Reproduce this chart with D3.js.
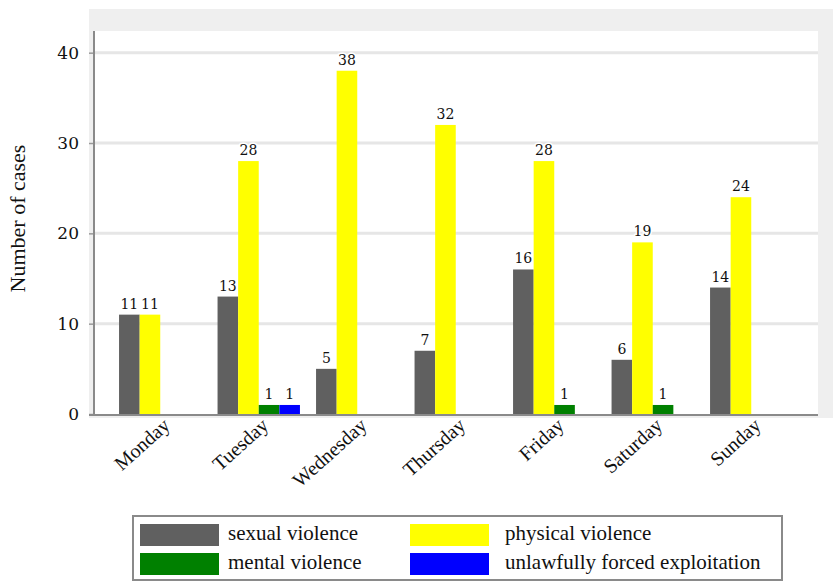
<!DOCTYPE html>
<html>
<head>
<meta charset="utf-8">
<script src="https://cdn.jsdelivr.net/npm/d3@7/dist/d3.min.js"></script>
<style>
  html, body { margin: 0; padding: 0; background: #fff; }
  svg { display: block; }
  .serif { font-family: "Liberation Serif", "Times New Roman", Times, serif; }
</style>
</head>
<body>
<svg id="chart" width="833" height="582"></svg>
<script>
// Weekday categories and the four case types
const days = ["Monday", "Tuesday", "Wednesday", "Thursday", "Friday", "Saturday", "Sunday"];
const seriesNames = ["sexual violence", "physical violence", "mental violence", "unlawfully forced exploitation"];
const seriesColors = ["#606060", "#ffff00", "#008000", "#0000ff"];

// Number of cases per day for each type
const sexualViolence   = [11, 13, 5, 7, 16, 6, 14];
const physicalViolence = [11, 28, 38, 32, 28, 19, 24];
const mentalViolence   = [0, 1, 0, 0, 1, 1, 0];
const forcedExploitation = [0, 1, 0, 0, 0, 0, 0];

const yTicks = [0, 10, 20, 30, 40];
const yMax = 42.4;

const seriesValues = [sexualViolence, physicalViolence, mentalViolence, forcedExploitation];

const svg = d3.select("#chart");

// Frame geometry
const outer = { left: 89, top: 9, right: 833, bottom: 418 };
const plot = { left: 95, top: 31, right: 818, bottom: 414 };

const x0 = d3.scaleBand()
  .domain(days)
  .range([111, 800.5])
  .paddingInner(0.1635)
  .paddingOuter(0.0817);

const x1 = d3.scaleBand()
  .domain(d3.range(seriesNames.length))
  .range([0, x0.bandwidth()])
  .padding(0);

const y = d3.scaleLinear().domain([0, yMax]).range([plot.bottom, plot.top]);

// Grey frame and white plotting panel
svg.append("rect")
  .attr("x", outer.left).attr("y", outer.top)
  .attr("width", outer.right - outer.left).attr("height", outer.bottom - outer.top)
  .attr("fill", "#efefef");
svg.append("rect")
  .attr("x", plot.left).attr("y", plot.top)
  .attr("width", plot.right - plot.left).attr("height", plot.bottom - plot.top)
  .attr("fill", "#ffffff");

// Horizontal gridlines
svg.append("g").selectAll("line")
  .data(yTicks.filter(t => t > 0))
  .join("line")
  .attr("x1", plot.left).attr("x2", plot.right)
  .attr("y1", d => y(d)).attr("y2", d => y(d))
  .attr("stroke", "#e6e6e6").attr("stroke-width", 3);

// Bars
const groups = svg.append("g").selectAll("g")
  .data(days)
  .join("g")
  .attr("transform", d => `translate(${x0(d)},0)`);

const cellsFor = (d, i) => seriesValues.map((vals, s) => ({ s, v: vals[i] })).filter(c => c.v > 0);

groups.selectAll("rect")
  .data(cellsFor)
  .join("rect")
  .attr("x", c => x1(c.s))
  .attr("width", x1.bandwidth())
  .attr("y", c => y(c.v))
  .attr("height", c => y(0) - y(c.v))
  .attr("fill", c => seriesColors[c.s]);

// Value labels above bars
groups.selectAll("text")
  .data(cellsFor)
  .join("text")
  .attr("x", c => x1(c.s) + x1.bandwidth() / 2)
  .attr("y", c => y(c.v) - 6)
  .attr("text-anchor", "middle")
  .attr("font-family", "DejaVu Serif")
  .attr("font-size", 14)
  .attr("fill", "#111")
  .attr("stroke", "#fff").attr("stroke-width", 3).attr("paint-order", "stroke")
  .text(c => c.v);

// Y axis
const yAxis = d3.axisLeft(y).tickValues(yTicks).tickSize(5).tickPadding(10);
const yg = svg.append("g").attr("transform", `translate(${plot.left - 1},0)`).call(yAxis);
yg.select(".domain").remove();
yg.selectAll(".tick line").attr("stroke", "#999").attr("stroke-width", 1.5);
yg.selectAll(".tick text")
  .attr("font-family", "DejaVu Serif")
  .attr("font-size", 17)
  .attr("fill", "#111");
svg.append("line")
  .attr("x1", plot.left - 1).attr("x2", plot.left - 1)
  .attr("y1", plot.top).attr("y2", y(0) + 1)
  .attr("stroke", "#8a8a8a").attr("stroke-width", 2);

// Baseline
svg.append("line")
  .attr("x1", outer.left).attr("x2", plot.right)
  .attr("y1", y(0) + 1).attr("y2", y(0) + 1)
  .attr("stroke", "#8a8a8a").attr("stroke-width", 2);

// X labels, rotated
svg.append("g").selectAll("text")
  .data(days)
  .join("text")
  .attr("class", "serif")
  .attr("transform", d => `translate(${x0(d) + x0.bandwidth() / 2 + 11},${y(0) + 13}) rotate(-42)`)
  .attr("text-anchor", "end")
  .attr("font-size", 20)
  .attr("fill", "#111")
  .text(d => d);

// Y axis title
svg.append("text")
  .attr("class", "serif")
  .attr("transform", `translate(25,${(plot.top + plot.bottom) / 2 - 4}) rotate(-90)`)
  .attr("text-anchor", "middle")
  .attr("font-size", 22)
  .attr("fill", "#111")
  .text("Number of cases");

// Legend
const legend = svg.append("g");
legend.append("rect")
  .attr("x", 133).attr("y", 516).attr("width", 649).attr("height", 64)
  .attr("fill", "#fff").attr("stroke", "#8a8a8a").attr("stroke-width", 2);

const legendCols = [140, 410];
const legendRows = [524, 553];
const items = legend.selectAll("g.item")
  .data(seriesNames)
  .join("g")
  .attr("class", "item")
  .attr("transform", (d, i) => `translate(${legendCols[i % 2]},${legendRows[Math.floor(i / 2)]})`);
items.append("rect")
  .attr("width", 79).attr("height", 22)
  .attr("fill", (d, i) => seriesColors[i]);
items.append("text")
  .attr("class", "serif")
  .attr("x", (d, i) => i % 2 === 0 ? 88 : 95)
  .attr("y", 16)
  .attr("font-size", 21)
  .attr("fill", "#111")
  .text(d => d);
</script>
</body>
</html>
